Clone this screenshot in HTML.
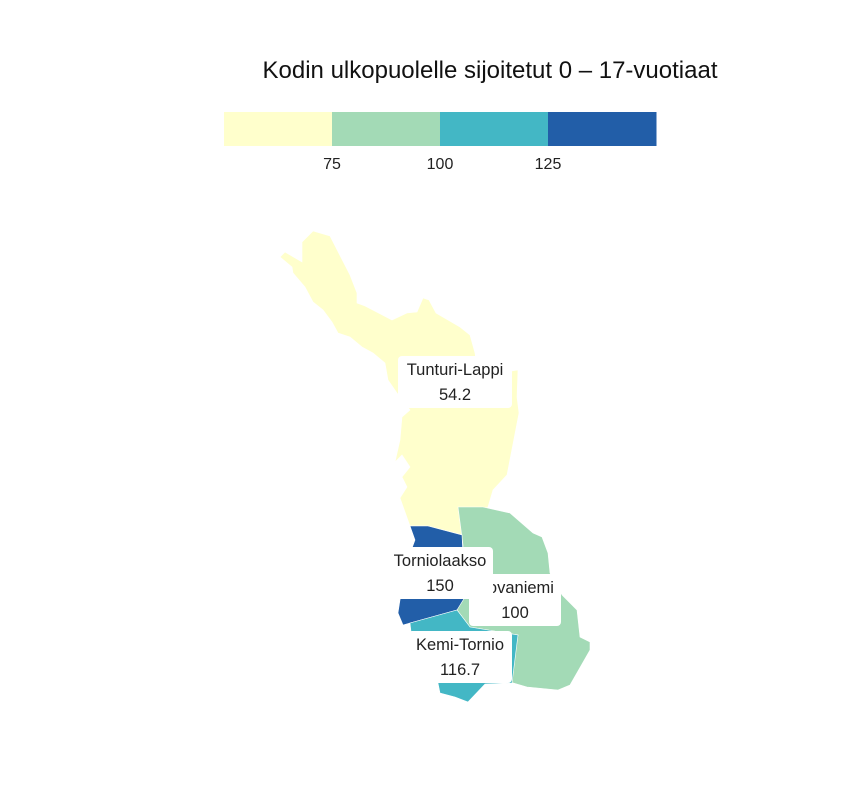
<!DOCTYPE html>
<html><head><meta charset="utf-8">
<style>
html,body{margin:0;padding:0;background:#fff;}
body{width:864px;height:792px;overflow:hidden;font-family:"Liberation Sans","DejaVu Sans",sans-serif;}
</style></head>
<body>
<svg id="chart" width="864" height="792" viewBox="0 0 864 792" xmlns="http://www.w3.org/2000/svg">
<text x="490" y="78" text-anchor="middle" font-size="24" fill="#111">Kodin ulkopuolelle sijoitetut 0 – 17-vuotiaat</text>
<g id="legend"></g>
<g id="map"></g>
<g id="labels"></g>
</svg>
<script>
const regionNames = ["Tunturi-Lappi","Rovaniemi","Torniolaakso","Kemi-Tornio"];
const regionValues = [54.2, 100, 150, 116.7];
const thresholds = [75, 100, 125];
const tickLabels = ["75","100","125"];
const colors = ["#ffffcc","#a3dab6","#43b7c5","#225ea8"];

const shapes = {
 "Tunturi-Lappi":"280,257 285,252 302,262 302,242 313,231 330,236 350,275 357,293 357,303 365,306 392,320 407,313 417,312 423,298 429,300 436,313 460,327 470,335 475,353 477,367 505,372 518,370 517,397 519,413 507,475 493,490 488,507 463,535 428,526 410,526 400,498 407,487 402,477 410,467 402,455 395,462 400,440 402,417 410,410 397,393 388,380 385,363 373,353 362,347 350,337 338,333 332,322 323,310 313,302 305,287 293,273 292,267",
 "Rovaniemi":"458,507 483,507 510,513 533,533 542,537 548,553 550,573 562,595 577,610 580,637 590,642 590,650 570,685 558,690 527,687 510,682 518,635 470,627 457,610 463,598 463,545",
 "Torniolaakso":"410,526 428,526 462,535 465,597 457,610 410,623 403,625 398,613 400,600 405,567 415,540",
 "Kemi-Tornio":"410,623 457,610 470,627 518,635 512,683 485,684 468,702 455,697 440,693 438,683 420,670 412,640"
};
const labelPos = {
 "Tunturi-Lappi":[455,382,114],
 "Rovaniemi":[515,600,92],
 "Torniolaakso":[440,573,106],
 "Kemi-Tornio":[460,657,104]
};
const labelOrder = ["Tunturi-Lappi","Rovaniemi","Torniolaakso","Kemi-Tornio"];

const NS="http://www.w3.org/2000/svg";
function colorFor(v){let i=0;while(i<thresholds.length&&v>thresholds[i])i++;return colors[i];}
function mk(tag,attrs,parent){const e=document.createElementNS(NS,tag);for(const k in attrs)e.setAttribute(k,attrs[k]);parent.appendChild(e);return e;}

const lg=document.getElementById('legend');
const lx0=224,lw=432,ly=112,lh=34;
const segW=lw/colors.length;
colors.forEach((c,i)=>{
 const r=mk('rect',{x:lx0+i*segW,y:ly,width:segW+0.5,height:lh,fill:c},lg);
 
 
});
tickLabels.forEach((t,i)=>{
 const tx=mk('text',{x:lx0+(i+1)*segW,y:169,'text-anchor':'middle','font-size':'16',fill:'#222'},lg);
 tx.textContent=t;
 
 
});

const mp=document.getElementById('map');
regionNames.forEach((n,i)=>{
 const p=mk('polygon',{points:shapes[n],fill:colorFor(regionValues[i]),stroke:'#fff','stroke-width':'0.6'},mp);
 
 
});

const lb=document.getElementById('labels');
labelOrder.forEach(n=>{
 const i=regionNames.indexOf(n);
 const [cx,cy,w]=labelPos[n];
 const g=mk('g',{},lb);
 
 
 mk('rect',{x:cx-w/2,y:cy-26,width:w,height:52,rx:4,fill:'#fff'},g);
 const t1=mk('text',{x:cx,y:cy-7,'text-anchor':'middle','font-size':'16.5',fill:'#222'},g);
 t1.textContent=n;
 const t2=mk('text',{x:cx,y:cy+18,'text-anchor':'middle','font-size':'16.5',fill:'#222'},g);
 t2.textContent=String(regionValues[i]);
});
</script>
</body></html>
